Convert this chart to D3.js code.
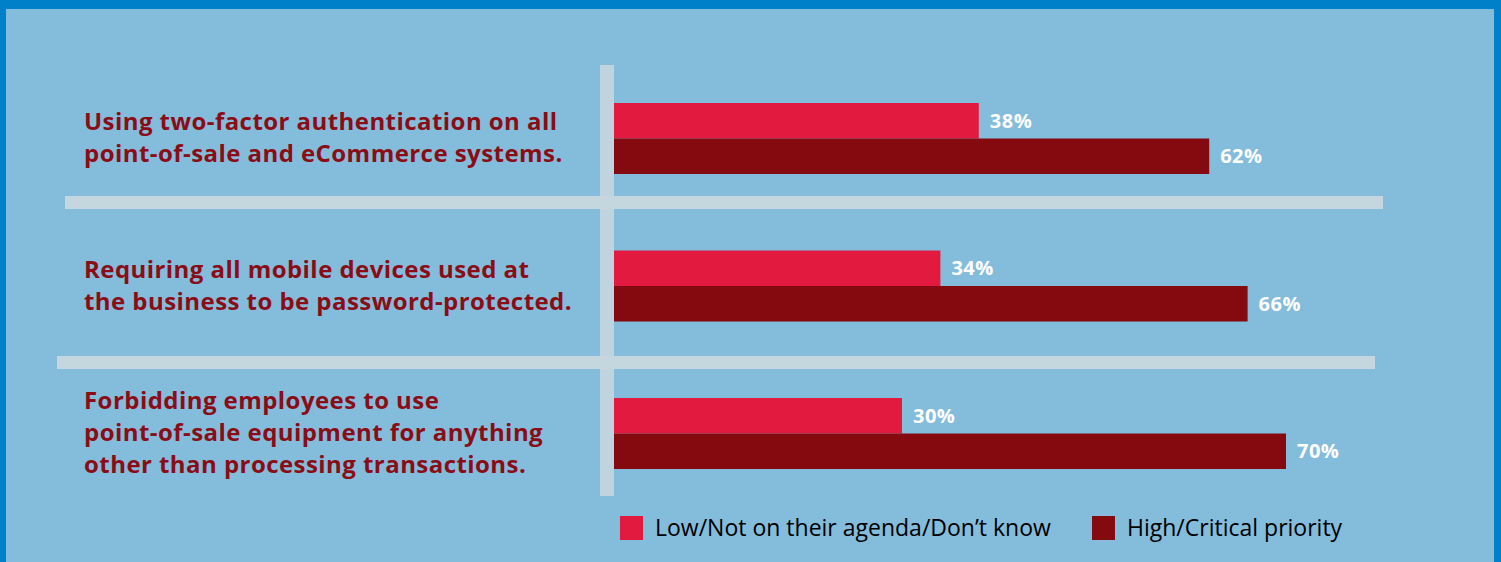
<!DOCTYPE html>
<html>
<head>
<meta charset="utf-8">
<script src="https://cdn.jsdelivr.net/npm/d3@7"></script>
<style>
  html, body { margin: 0; padding: 0; background: #0080c8; }
  svg { display: block; }
</style>
</head>
<body>
<div id="chart"></div>
<script>
const W = 1501, H = 562;

// data
const categories = [
  ["Using two-factor authentication on all", "point-of-sale and eCommerce systems."],
  ["Requiring all mobile devices used at", "the business to be password-protected."],
  ["Forbidding employees to use", "point-of-sale equipment for anything", "other than processing transactions."]
];
const lowValues = [38, 34, 30];
const highValues = [62, 66, 70];
const seriesNames = ["Low/Not on their agenda/Don\u2019t know", "High/Critical priority"];
const seriesColors = ["#e31a3f", "#850a10"];

const svg = d3.select("#chart").append("svg")
    .attr("width", W)
    .attr("height", H);

// frame
svg.append("rect").attr("width", W).attr("height", H).attr("fill", "#0080c8");
svg.append("rect")
    .attr("x", 6).attr("y", 9)
    .attr("width", 1494 - 6).attr("height", H - 9)
    .attr("fill", "#84bcdc");

// scales
const x = d3.scaleLinear().domain([0, 100]).range([614, 614 + 960]);
const groupY = d3.scaleLinear().domain([0, 2]).range([103, 398]);
const inner = d3.scaleBand().domain([0, 1]).range([0, 71]);

// grid decorations
const sepColor = "#c4d6de";
svg.append("rect").attr("x", 65).attr("y", 196).attr("width", 1383 - 65).attr("height", 13).attr("fill", sepColor);
svg.append("rect").attr("x", 57).attr("y", 356).attr("width", 1375 - 57).attr("height", 13).attr("fill", sepColor);
svg.append("rect").attr("x", 600).attr("y", 65).attr("width", 14).attr("height", 496 - 65).attr("fill", sepColor).attr("opacity", 0.92);

// category labels
const catTexts = [];
categories.forEach((lines, i) => {
  const n = lines.length;
  const center = groupY(i) + 35;
  const lh = 32;
  const first = center - (n - 1) * lh / 2 + 8;
  const t = svg.append("text")
      .attr("font-family", "'Open Sans', sans-serif")
      .attr("font-weight", "bold")
      .attr("font-size", 24)
      .attr("fill", "#8b0c14");
  t.selectAll("tspan")
      .data(lines)
      .join("tspan")
      .attr("x", 84)
      .attr("y", (d, j) => first + j * lh)
      .text(d => d);
  catTexts.push(t);
});
// fit letter spacing so the first line is as wide as in the original
const firstSpan = catTexts[0].select("tspan").node();
const w0 = firstSpan.getComputedTextLength();
const ls = (473 - w0) / (categories[0][0].length - 1);
catTexts.forEach(t => t.attr("letter-spacing", ls));

// bars
const rows = [];
categories.forEach((c, i) => {
  rows.push({g: i, s: 0, v: lowValues[i]});
  rows.push({g: i, s: 1, v: highValues[i]});
});

svg.append("g").selectAll("rect")
    .data(rows)
    .join("rect")
    .attr("x", x(0))
    .attr("y", d => groupY(d.g) + inner(d.s))
    .attr("width", d => x(d.v) - x(0))
    .attr("height", inner.bandwidth())
    .attr("fill", d => seriesColors[d.s]);

svg.append("g").selectAll("text")
    .data(rows)
    .join("text")
    .attr("x", d => x(d.v) + 11)
    .attr("y", d => groupY(d.g) + inner(d.s) + inner.bandwidth() / 2)
    .attr("dy", "0.36em")
    .attr("font-family", "'Open Sans', sans-serif")
    .attr("font-weight", "bold")
    .attr("font-size", 20)
    .attr("letter-spacing", 0.5)
    .attr("fill", "#ffffff")
    .text(d => d.v + "%");

// legend
const legendX = [620, 1092];
const leg = svg.append("g");
seriesNames.forEach((name, i) => {
  leg.append("rect")
      .attr("x", legendX[i]).attr("y", 516)
      .attr("width", 23).attr("height", 24)
      .attr("fill", seriesColors[i]);
  leg.append("text")
      .attr("x", legendX[i] + 35)
      .attr("y", 536)
      .attr("font-family", "'Liberation Sans Narrow', 'Open Sans', sans-serif")
      .attr("font-size", 23)
      .attr("fill", "#000")
      .text(name);
});
</script>
</body>
</html>
